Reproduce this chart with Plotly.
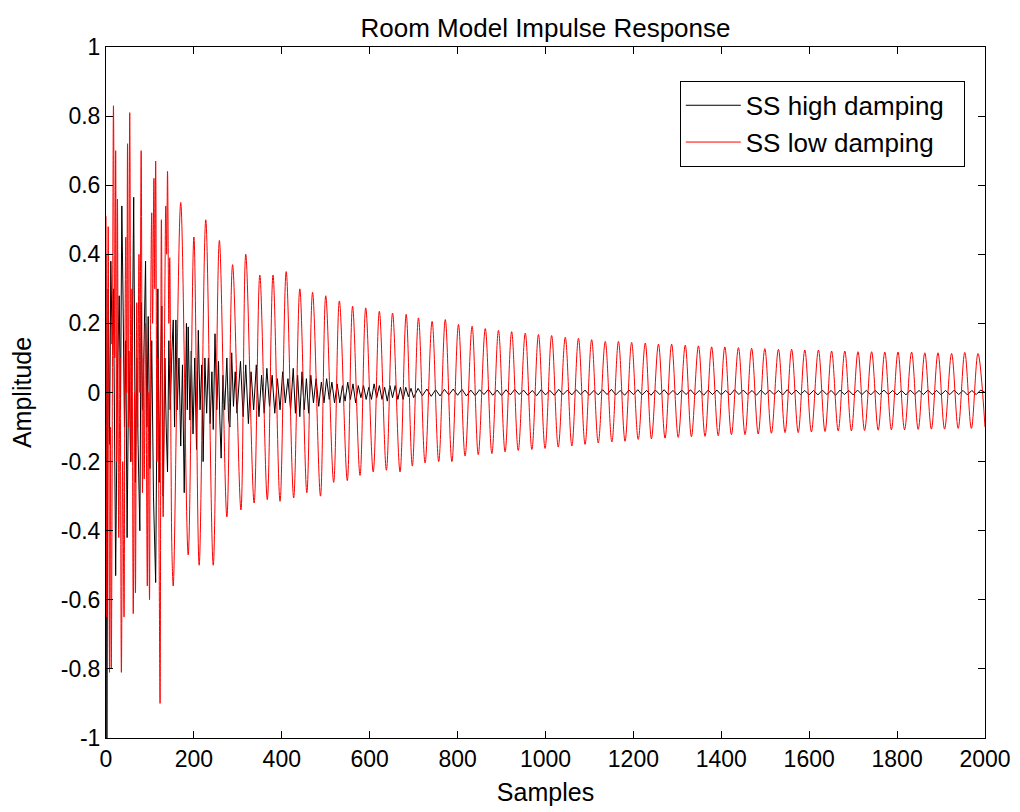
import plotly.graph_objects as go

# ---------------- data ----------------
# Low-damping (red) response: early irregular part, then alternating peaks / troughs
red_early_x = [0, 2, 5, 8, 10, 12, 15, 17, 20, 22,
               24, 26, 29, 32, 35, 38, 41, 43, 45, 47,
               49, 51, 54, 57, 59, 62, 65, 67, 70, 72,
               75, 77, 80, 83, 85, 87, 90, 94, 96, 99,
               101, 104, 106, 109, 111, 113, 116, 118, 121, 123,
               126, 130, 134, 136, 138, 140, 143, 145, 148, 150,
               153]
red_early_y = [0.51, -0.65, 0.48, -0.81, -0.10, -0.80, 0.20, 0.83, 0.10, 0.70,
               -0.20, 0.56, -0.42, 0.10, -0.81, -0.20, -0.65, 0.10, 0.45, 0.00,
               0.72, -0.10, 0.81, -0.20, 0.30, -0.64, 0.00, -0.58, 0.26, -0.10,
               0.40, 0.00, 0.70, -0.29, 0.10, -0.25, 0.20, -0.56, 0.00, -0.60,
               0.10, 0.52, 0.20, 0.62, 0.30, 0.67, -0.20, 0.10, -0.50, -0.90,
               0.50, -0.36, 0.30, 0.54, 0.40, 0.64, 0.20, 0.39, -0.20, -0.46,
               -0.56]

red_peak_x = [170, 200, 227, 258, 288, 318, 350, 380, 410, 441,
              470, 500, 531, 561, 591, 622, 652, 683, 711, 742,
              772, 802, 833, 863, 893, 923, 954, 984, 1014, 1045,
              1075, 1105, 1136, 1166, 1196, 1227, 1257, 1287, 1318, 1348,
              1378, 1408, 1439, 1469, 1499, 1530, 1560, 1590, 1621, 1651,
              1681, 1711, 1742, 1772, 1802, 1833, 1863, 1893, 1924, 1954,
              1984]
red_peak_y = [0.55, 0.45, 0.50, 0.44, 0.37, 0.40, 0.34, 0.34, 0.35, 0.30,
              0.29, 0.28, 0.265, 0.25, 0.245, 0.235, 0.23, 0.226, 0.216, 0.206,
              0.211, 0.197, 0.192, 0.185, 0.18, 0.176, 0.172, 0.168, 0.165, 0.16,
              0.157, 0.153, 0.148, 0.148, 0.145, 0.143, 0.14, 0.14, 0.137, 0.135,
              0.132, 0.132, 0.13, 0.128, 0.127, 0.125, 0.125, 0.123, 0.123, 0.12,
              0.12, 0.118, 0.118, 0.117, 0.117, 0.117, 0.115, 0.115, 0.113, 0.116,
              0.113]

red_trough_x = [187, 212, 244, 275, 307, 337, 367, 396, 427, 457,
                488, 518, 549, 578, 608, 638, 669, 697, 726, 757,
                787, 817, 847, 878, 908, 938, 969, 999, 1029, 1060,
                1090, 1120, 1151, 1181, 1211, 1241, 1272, 1302, 1332, 1363,
                1393, 1423, 1454, 1484, 1514, 1545, 1575, 1605, 1636, 1666,
                1696, 1726, 1757, 1787, 1817, 1848, 1878, 1908, 1939, 1969,
                2000]
red_trough_y = [-0.47, -0.50, -0.50, -0.36, -0.34, -0.32, -0.31, -0.315, -0.305, -0.29,
                -0.30, -0.26, -0.255, -0.24, -0.23, -0.225, -0.23, -0.213, -0.204, -0.20,
                -0.20, -0.184, -0.18, -0.177, -0.172, -0.168, -0.165, -0.162, -0.158, -0.155,
                -0.15, -0.146, -0.143, -0.141, -0.136, -0.134, -0.132, -0.13, -0.128, -0.127,
                -0.125, -0.122, -0.122, -0.12, -0.118, -0.116, -0.116, -0.114, -0.113, -0.111,
                -0.111, -0.11, -0.109, -0.108, -0.108, -0.107, -0.106, -0.106, -0.104, -0.104,
                -0.10]

# High-damping (black) response: early part, then the small residual tail
black_x = [0, 2, 5, 8, 11, 14, 17, 22, 26, 30,
           33, 36, 39, 42, 45, 48, 52, 56, 60, 63,
           67, 70, 73, 77, 80, 83, 86, 90, 93, 96,
           100, 104, 108, 113, 118, 121, 124, 127, 130, 134,
           137, 140, 143, 146, 150, 153, 156, 159, 162, 166,
           170, 174, 178, 183, 185, 187, 191, 194, 198, 202,
           206, 210, 214, 218, 221, 225, 229, 233, 237, 241,
           244, 248, 252, 256, 259, 262, 266, 270, 275, 279,
           282, 286, 290, 294, 298, 302, 306, 312, 318, 324,
           330, 336, 342, 348, 354, 360, 366, 372, 378, 384,
           390, 396, 402, 408, 414, 420, 426, 431, 436, 441,
           446, 451, 456, 461, 466, 472, 478, 484, 490, 496,
           502, 508, 514, 520, 526, 532, 538, 544, 550, 556,
           562, 568, 574, 580, 586, 592, 598, 604, 610, 616,
           622, 628, 634, 640, 646, 652, 658, 664, 670, 676,
           682, 688, 694, 700]
black_y = [0.40, -1.00, 0.30, -0.15, 0.38, 0.14, 0.30, -0.53, 0.05, 0.28,
           -0.05, 0.54, 0.25, -0.10, 0.15, -0.42, 0.12, -0.20, 0.15, 0.565,
           -0.26, 0.10, -0.15, -0.40, 0.26, -0.05, 0.10, 0.38, -0.10, 0.22,
           -0.22, 0.15, -0.30, -0.55, 0.30, -0.26, 0.05, 0.25, -0.30, 0.10,
           -0.10, -0.23, 0.15, -0.05, 0.12, 0.21, -0.10, 0.21, -0.05, 0.10,
           -0.155, 0.08, -0.29, 0.20, -0.05, 0.19, -0.08, 0.12, -0.12, 0.10,
           -0.165, 0.18, -0.05, 0.08, -0.20, 0.10, -0.06, 0.10, -0.09, 0.06,
           -0.107, 0.17, -0.05, 0.09, -0.08, -0.19, 0.05, -0.05, 0.10, -0.08,
           -0.10, 0.115, -0.04, 0.06, -0.06, 0.03, 0.09, -0.07, 0.08, -0.09,
           0.06, -0.05, 0.08, -0.07, 0.05, -0.06, 0.07, -0.04, 0.05, -0.06,
           0.04, -0.05, 0.06, -0.03, 0.04, -0.05, 0.07, -0.06, 0.05, -0.07,
           0.06, -0.05, 0.04, -0.06, 0.05, -0.03, 0.04, -0.04, 0.03, -0.03,
           0.04, -0.02, 0.03, -0.03, 0.025, -0.03, 0.02, -0.025, 0.03, -0.02,
           0.025, -0.03, 0.02, -0.015, 0.02, -0.02, 0.015, -0.02, 0.025, -0.015,
           0.02, -0.02, 0.015, -0.025, 0.02, -0.015, 0.02, -0.02, 0.015, -0.02,
           0.015, -0.012, 0.012, -0.015]

black_tail_start = 710
black_tail_step = 10
black_tail_y = [0.012, -0.009, 0.010, -0.011, 0.008, -0.010, 0.009, -0.007, 0.010, -0.008,
                0.009, -0.010, 0.007, -0.009, 0.008, -0.006, 0.009, -0.008, 0.007, -0.009,
                0.008, -0.007, 0.009, -0.006, 0.007, -0.008, 0.006, -0.009, 0.008, -0.007,
                0.006, -0.008, 0.009, -0.006, 0.007, -0.007, 0.008, -0.006, 0.007, -0.008,
                0.006, -0.007, 0.008, -0.006, 0.009, -0.007, 0.006, -0.008, 0.007, -0.006,
                0.008, -0.007, 0.006, -0.008, 0.007, -0.006, 0.008, -0.007, 0.006, -0.007,
                0.007, -0.006, 0.008, -0.007, 0.006, -0.008, 0.007, -0.006, 0.007, -0.007,
                0.006, -0.007, 0.008, -0.006, 0.007, -0.006, 0.006, -0.008, 0.007, -0.006,
                0.007, -0.006, 0.006, -0.007, 0.008, -0.006, 0.007, -0.006, 0.006, -0.007,
                0.006, -0.007, 0.007, -0.006, 0.006, -0.008, 0.007, -0.006, 0.006, -0.007,
                0.007, -0.006, 0.006, -0.007, 0.006, -0.006, 0.007, -0.006, 0.006, -0.007,
                0.006, -0.007, 0.007, -0.006, 0.006, -0.006, 0.007, -0.006, 0.006, -0.007,
                0.006, -0.006, 0.007, -0.006, 0.006, -0.007, 0.006, -0.006, 0.007, 0.000]

x_tick_vals = [0, 200, 400, 600, 800, 1000, 1200, 1400, 1600, 1800, 2000]
x_tick_text = ["0", "200", "400", "600", "800", "1000", "1200", "1400", "1600", "1800", "2000"]
y_tick_vals = [-1, -0.8, -0.6, -0.4, -0.2, 0, 0.2, 0.4, 0.6, 0.8, 1]
y_tick_text = ["-1", "-0.8", "-0.6", "-0.4", "-0.2", "0", "0.2", "0.4", "0.6", "0.8", "1"]

# ---------------- build series ----------------
red_reg = sorted(list(zip(red_peak_x, red_peak_y)) + list(zip(red_trough_x, red_trough_y)))
red_x = red_early_x + [p[0] for p in red_reg]
red_y = red_early_y + [p[1] for p in red_reg]

tail_x = list(range(black_tail_start, black_tail_start + black_tail_step * len(black_tail_y), black_tail_step))
blk_x = black_x + tail_x
blk_y = black_y + black_tail_y

FONT = "Liberation Sans, Arial, sans-serif"
PAD = "\u00a0\u00a0"

fig = go.Figure()
fig.add_trace(go.Scatter(x=blk_x, y=blk_y, mode="lines", name="SS high damping" + PAD,
                         line=dict(color="black", width=1)))
fig.add_trace(go.Scatter(x=red_x, y=red_y, mode="lines", name="SS low damping" + PAD,
                         line=dict(color="red", width=1, shape="spline", smoothing=1.0)))

axis_common = dict(showline=True, linecolor="black", linewidth=1, mirror="ticks",
                   ticks="inside", ticklen=7, tickcolor="black", tickwidth=1,
                   showgrid=False, zeroline=False, automargin=False,
                   tickfont=dict(family=FONT, size=23, color="black"))

fig.update_layout(
    width=1020, height=812,
    margin=dict(l=98, r=43, t=39, b=82, autoexpand=False),
    paper_bgcolor="white", plot_bgcolor="white",
    font=dict(family=FONT, color="black"),
    title=dict(text="Room Model Impulse Response", x=0.5, xanchor="center", xref="paper",
               y=1, yanchor="bottom", yref="paper", pad=dict(t=0, b=10),
               font=dict(family=FONT, size=26, color="black")),
    xaxis=dict(range=[0, 2000], tickvals=x_tick_vals, ticktext=x_tick_text,
               title=dict(text="Samples", font=dict(family=FONT, size=25, color="black"), standoff=12),
               **axis_common),
    yaxis=dict(range=[-1, 1], tickvals=y_tick_vals, ticktext=y_tick_text,
               title=dict(text="Amplitude", font=dict(family=FONT, size=25, color="black"), standoff=22),
               **axis_common),
    legend=dict(x=0.977, y=0.951, xanchor="right", yanchor="top",
                bgcolor="white", bordercolor="black", borderwidth=1,
                font=dict(family=FONT, size=26, color="black"),
                itemwidth=55, tracegroupgap=0),
    showlegend=True,
)

fig.write_html("out.html")
